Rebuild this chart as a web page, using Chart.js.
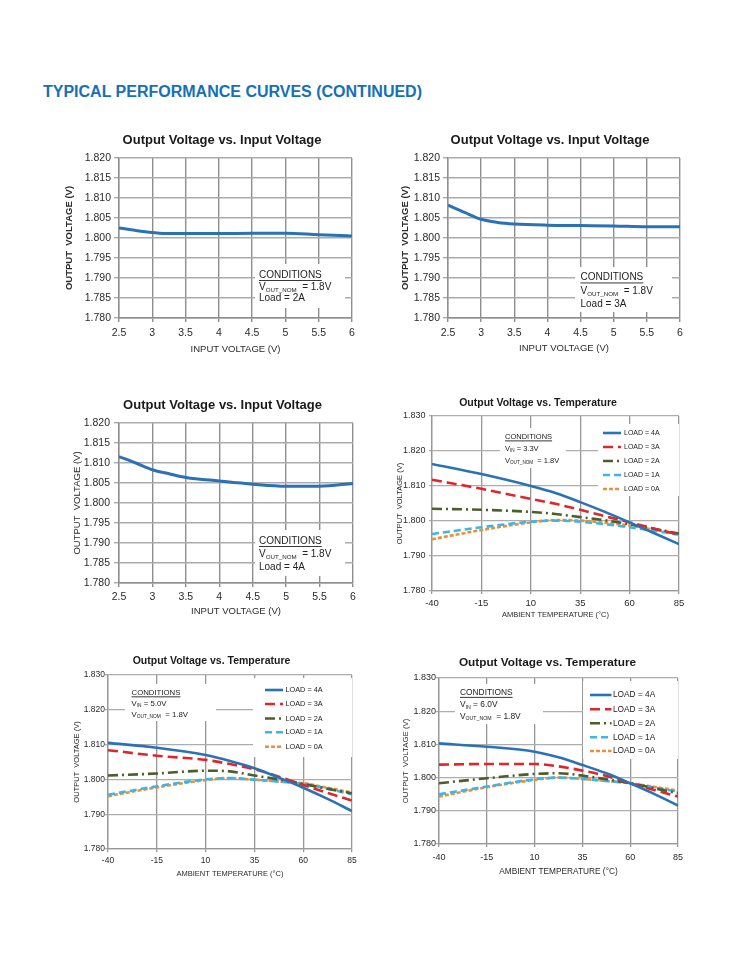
<!DOCTYPE html>
<html>
<head>
<meta charset="utf-8">
<script src="https://cdn.jsdelivr.net/npm/chart.js@4.4.1/dist/chart.umd.min.js"></script>
<style>
  body { margin: 0; background: #fff; width: 742px; height: 960px; position: relative; overflow: hidden; }
  h1 { position: absolute; left: 43px; top: 83px; margin: 0; font: bold 16px "Liberation Sans", Arial, sans-serif; color: #1570b5; letter-spacing: 0; }
  canvas { position: absolute; }
</style>
</head>
<body>
<h1>TYPICAL PERFORMANCE CURVES (CONTINUED)</h1>
<canvas id="c1"></canvas>
<canvas id="c2"></canvas>
<canvas id="c3"></canvas>
<canvas id="c4"></canvas>
<canvas id="c5"></canvas>
<canvas id="c6"></canvas>
<script>
// ── DATA ──
const vinPts = [2.5, 2.75, 3, 3.25, 3.5, 4, 4.5, 5, 5.5, 6];
const voutLoad2A = [1.8025, 1.8019, 1.8014, 1.8011, 1.8011, 1.8011, 1.8012, 1.8012, 1.8008, 1.8005];
const voutLoad3A = [1.8082, 1.8064, 1.8047, 1.8039, 1.8035, 1.8032, 1.8031, 1.8030, 1.8028, 1.8028];
const voutLoad4A = [1.8116, 1.8100, 1.8083, 1.8073, 1.8064, 1.8055, 1.8047, 1.8042, 1.8042, 1.8049];

const tempPts = [-40, -15, 10, 22.5, 35, 47.5, 60, 72.5, 85];
const loadLabels = ['LOAD = 4A', 'LOAD = 3A', 'LOAD = 2A', 'LOAD = 1A', 'LOAD = 0A'];
// VIN = 3.3V
const vin33 = [
  [1.8163, 1.8134, 1.8100, 1.8080, 1.8054, 1.8026, 1.7996, 1.7965, 1.7934],
  [1.8118, 1.8092, 1.8063, 1.8049, 1.8032, 1.8014, 1.7996, 1.7978, 1.7961],
  [1.8035, 1.8032, 1.8026, 1.8020, 1.8011, 1.8002, 1.7991, 1.7978, 1.7964],
  [1.7963, 1.7982, 1.7998, 1.8001, 1.7998, 1.7991, 1.7982, 1.7972, 1.7961],
  [1.7948, 1.7974, 1.7996, 1.8003, 1.8001, 1.7995, 1.7987, 1.7975, 1.7963]
];
// VIN = 5.0V
const vin50 = [
  [1.8105, 1.8091, 1.8070, 1.8053, 1.8032, 1.8005, 1.7976, 1.7944, 1.7909],
  [1.8084, 1.8068, 1.8056, 1.8044, 1.8029, 1.8008, 1.7984, 1.7961, 1.7939],
  [1.8011, 1.8017, 1.8025, 1.8023, 1.8011, 1.8000, 1.7987, 1.7973, 1.7960],
  [1.7956, 1.7980, 1.8000, 1.8004, 1.7999, 1.7994, 1.7987, 1.7973, 1.7957],
  [1.7952, 1.7977, 1.7998, 1.8003, 1.7999, 1.7994, 1.7989, 1.7976, 1.7962]
];
// VIN = 6.0V
const vin60 = [
  [1.8103, 1.8093, 1.8078, 1.8061, 1.8038, 1.8013, 1.7983, 1.7951, 1.7916],
  [1.8039, 1.8041, 1.8041, 1.8034, 1.8021, 1.8005, 1.7983, 1.7963, 1.7943],
  [1.7983, 1.7998, 1.8011, 1.8013, 1.8006, 1.7995, 1.7983, 1.7968, 1.7953],
  [1.7950, 1.7973, 1.7995, 1.8000, 1.7996, 1.7990, 1.7983, 1.7970, 1.7958],
  [1.7943, 1.7971, 1.7993, 1.8000, 1.7996, 1.7990, 1.7983, 1.7972, 1.7961]
];

// ── STYLE ──
const FONT = '"Liberation Sans", Arial, sans-serif';
const BLUE = '#2a72b5';
const loadStyles = [
  { color: '#2a72b5', dash: [] },
  { color: '#e0262b', dash: [10, 5] },
  { color: '#4d5e2a', dash: [10, 4, 2, 4] },
  { color: '#3db5e6', dash: [7, 4] },
  { color: '#e8913c', dash: [4, 2] }
];

const pts = (xs, ys) => xs.map((x, i) => ({ x: x, y: ys[i] }));

function vinSet(ys) {
  return [{ data: pts(vinPts, ys), borderColor: BLUE, borderWidth: 3, pointRadius: 0, cubicInterpolationMode: 'monotone' }];
}
function tempSets(rows) {
  return rows.map((ys, i) => ({
    label: loadLabels[i], data: pts(tempPts, ys),
    borderColor: loadStyles[i].color, borderDash: loadStyles[i].dash,
    borderWidth: 2.6, pointRadius: 0, cubicInterpolationMode: 'monotone'
  }));
}

function drawLine(ctx, parts, x, y, size) {
  parts.forEach(p => {
    if (p.sub) {
      ctx.font = (size * 0.62) + 'px ' + FONT;
      ctx.fillText(p.t, x, y + size * 0.28);
    } else {
      ctx.font = size + 'px ' + FONT;
      ctx.fillText(p.t, x, y);
    }
    x += ctx.measureText(p.t).width;
  });
}

// ── CHART BUILDER ──
function makeChart(id, g) {
  const yLh = g.yTitleSize * 1.2, xLh = g.xTitleSize * 1.2;
  const yScaleLeft = g.yTitleX - yLh / 2;
  const xScaleBottom = g.xTitleY + xLh / 2;
  const cl = Math.floor(yScaleLeft) - 2, ct = g.plot.t - 45;
  const cr = g.plot.r + 25, cb = Math.ceil(xScaleBottom) + 4;
  const cv = document.getElementById(id);
  cv.width = cr - cl; cv.height = cb - ct;
  cv.style.left = cl + 'px'; cv.style.top = ct + 'px';

  const deco = {
    id: 'deco',
    beforeDatasetsDraw(chart) {
      const ctx = chart.ctx;
      ctx.save();
      ctx.fillStyle = '#fff';
      g.boxes.forEach(b => ctx.fillRect(b[0] - cl, b[1] - ct, b[2], b[3]));
      ctx.restore();
    },
    afterDraw(chart) {
      const ctx = chart.ctx;
      ctx.save();
      ctx.textBaseline = 'middle';
      // title
      ctx.fillStyle = '#1a1a1a';
      ctx.textAlign = 'center';
      ctx.font = 'bold ' + g.title.size + 'px ' + FONT;
      ctx.fillText(g.title.text, g.title.x - cl, g.title.y - ct);
      // conditions
      const c = g.cond;
      ctx.textAlign = 'left';
      ctx.fillStyle = '#222';
      ctx.font = c.size + 'px ' + FONT;
      ctx.fillText('CONDITIONS', c.x - cl, c.ys[0] - ct);
      const w = ctx.measureText('CONDITIONS').width;
      ctx.fillRect(c.x - cl, c.ys[0] - ct + c.size * 0.5, w, 0.9);
      c.lines.forEach((parts, i) => drawLine(ctx, parts, c.x - cl, c.ys[i + 1] - ct, c.size));
      // legend
      if (g.legend) {
        const L = g.legend;
        chart.data.datasets.forEach((ds, i) => {
          const y = L.ys[i] - ct;
          ctx.strokeStyle = ds.borderColor;
          ctx.lineWidth = ds.borderWidth;
          ctx.setLineDash(ds.borderDash || []);
          ctx.beginPath();
          ctx.moveTo(L.x1 - cl, y); ctx.lineTo(L.x2 - cl, y);
          ctx.stroke();
          ctx.setLineDash([]);
          ctx.fillStyle = '#222';
          ctx.font = L.size + 'px ' + FONT;
          ctx.fillText(ds.label, L.tx - cl, y);
        });
      }
      ctx.restore();
    }
  };

  return new Chart(cv, {
    type: 'line',
    data: { datasets: g.datasets },
    plugins: [deco],
    options: {
      responsive: false,
      animation: false,
      layout: { padding: { left: yScaleLeft - cl, top: g.plot.t - ct, right: cr - g.plot.r, bottom: cb - xScaleBottom } },
      plugins: { legend: { display: false }, tooltip: { enabled: false } },
      scales: {
        x: {
          type: 'linear', min: g.x.min, max: g.x.max,
          ticks: { stepSize: g.x.step, color: '#2a2a2a', padding: g.x.pad, font: { family: FONT, size: g.tickSize },
                   callback: v => String(v) },
          grid: { color: g.vGrid, lineWidth: g.gridW, tickLength: g.x.tick },
          border: { color: g.vGrid, width: g.gridW },
          title: { display: true, text: g.xTitle, color: '#2a2a2a', padding: 0, font: { family: FONT, size: g.xTitleSize } },
          afterFit: s => { s.height = xScaleBottom - g.plot.b; }
        },
        y: {
          min: g.y.min, max: g.y.max,
          ticks: { stepSize: g.y.step, color: '#2a2a2a', padding: g.y.pad, font: { family: FONT, size: g.yTickSize || g.tickSize },
                   callback: v => v.toFixed(3) },
          grid: { color: g.hGrid, lineWidth: g.gridW, tickLength: g.y.tick },
          border: { color: g.vGrid, width: g.gridW },
          title: { display: true, text: 'OUTPUT  VOLTAGE (V)', color: '#2a2a2a', padding: 0,
                   font: { family: FONT, size: g.yTitleSize, weight: g.yTitleBold ? 'bold' : 'normal' } },
          afterFit: s => { s.width = g.plot.l - yScaleLeft; }
        }
      }
    }
  });
}

const voutNom = [{ t: 'V' }, { t: 'OUT_NOM', sub: true }, { t: '  = 1.8V' }];
const vinAxis = { min: 2.5, max: 6, step: 0.5, tick: 4, pad: 5 };
const vinY = { min: 1.78, max: 1.82, step: 0.005, tick: 5, pad: 3 };
const tempTitle = 'Output Voltage vs. Temperature';
const vinTitle = 'Output Voltage vs. Input Voltage';

makeChart('c1', {
  plot: { l: 119, t: 158, r: 352, b: 318 }, datasets: vinSet(voutLoad2A),
  title: { text: vinTitle, x: 222, y: 140, size: 13 },
  yTitleX: 69, yTitleSize: 9.5, yTitleBold: true, xTitleY: 349, xTitleSize: 9.5, xTitle: 'INPUT VOLTAGE (V)',
  tickSize: 10.5, vGrid: '#8e8e8e', hGrid: '#ababab', gridW: 1.4,
  x: vinAxis, y: vinY,
  cond: { x: 259, ys: [275, 287.5, 298.5], size: 10, lines: [voutNom, [{ t: 'Load = 2A' }]] },
  boxes: [[255, 264, 90, 44]]
});

makeChart('c2', {
  plot: { l: 448, t: 158, r: 680, b: 318 }, datasets: vinSet(voutLoad3A),
  title: { text: vinTitle, x: 550, y: 140, size: 13 },
  yTitleX: 405, yTitleSize: 9.5, yTitleBold: true, xTitleY: 348.5, xTitleSize: 9.5, xTitle: 'INPUT VOLTAGE (V)',
  tickSize: 10.5, vGrid: '#8e8e8e', hGrid: '#ababab', gridW: 1.4,
  x: vinAxis, y: { min: 1.78, max: 1.82, step: 0.005, tick: 5, pad: 3 },
  cond: { x: 580.5, ys: [277.5, 291, 304.5], size: 10, lines: [voutNom, [{ t: 'Load = 3A' }]] },
  boxes: [[575, 267, 97, 45]]
});

makeChart('c3', {
  plot: { l: 119, t: 423, r: 353, b: 583 }, datasets: vinSet(voutLoad4A),
  title: { text: vinTitle, x: 222.5, y: 405, size: 13 },
  yTitleX: 77, yTitleSize: 9.5, yTitleBold: false, xTitleY: 611.5, xTitleSize: 9.5, xTitle: 'INPUT VOLTAGE (V)',
  tickSize: 10.5, vGrid: '#8e8e8e', hGrid: '#ababab', gridW: 1.4,
  x: { min: 2.5, max: 6, step: 0.5, tick: 4, pad: 3.5 }, y: { min: 1.78, max: 1.82, step: 0.005, tick: 5, pad: 4 },
  cond: { x: 259, ys: [541, 554, 567.5], size: 10, lines: [voutNom, [{ t: 'Load = 4A' }]] },
  boxes: [[255, 530, 90, 46]]
});

makeChart('c4', {
  plot: { l: 432, t: 416, r: 679, b: 591 }, datasets: tempSets(vin33),
  title: { text: tempTitle, x: 538, y: 403, size: 10.5 },
  yTitleX: 400, yTitleSize: 7.5, xTitleY: 615, xTitleSize: 7.5, xTitle: 'AMBIENT TEMPERATURE (°C)',
  tickSize: 9.5, yTickSize: 9, vGrid: '#979797', hGrid: '#adadad', gridW: 1.3,
  x: { min: -40, max: 85, step: 25, tick: 3, pad: 3.6 }, y: { min: 1.78, max: 1.83, step: 0.01, tick: 3, pad: 3.5 },
  cond: { x: 505, ys: [436.7, 448.5, 460.5], size: 7.5,
          lines: [[{ t: 'V' }, { t: 'IN', sub: true }, { t: ' = 3.3V' }], voutNom] },
  legend: { x1: 603, x2: 621, tx: 624, size: 7, ys: [433, 447, 461, 475, 489] },
  boxes: [[500, 428, 66, 40], [598, 424, 81, 72]]
});

makeChart('c5', {
  plot: { l: 108, t: 675, r: 352, b: 849 }, datasets: tempSets(vin50),
  title: { text: tempTitle, x: 211.5, y: 661, size: 10.5 },
  yTitleX: 76.5, yTitleSize: 7.5, xTitleY: 874, xTitleSize: 7.5, xTitle: 'AMBIENT TEMPERATURE (°C)',
  tickSize: 8.5, vGrid: '#979797', hGrid: '#adadad', gridW: 1.3,
  x: { min: -40, max: 85, step: 25, tick: 3, pad: 3.6 }, y: { min: 1.78, max: 1.83, step: 0.01, tick: 3, pad: 0 },
  cond: { x: 131.5, ys: [692.5, 703.5, 714.5], size: 7.8,
          lines: [[{ t: 'V' }, { t: 'IN', sub: true }, { t: ' = 5.0V' }], voutNom] },
  legend: { x1: 265, x2: 283, tx: 285.5, size: 7.3, ys: [690, 704, 718.5, 732.3, 746.7] },
  boxes: [[125, 684, 91, 37], [253, 678, 99, 79]]
});

makeChart('c6', {
  plot: { l: 439, t: 678, r: 678, b: 844 }, datasets: tempSets(vin60),
  title: { text: tempTitle, x: 547.5, y: 663, size: 11.8 },
  yTitleX: 405.5, yTitleSize: 7.8, xTitleY: 872, xTitleSize: 8.3, xTitle: 'AMBIENT TEMPERATURE (°C)',
  tickSize: 9, vGrid: '#979797', hGrid: '#adadad', gridW: 1.3,
  x: { min: -40, max: 85, step: 25, tick: 3, pad: 5.6 }, y: { min: 1.78, max: 1.83, step: 0.01, tick: 3, pad: 0 },
  cond: { x: 460, ys: [692.7, 705, 716.7], size: 8.4,
          lines: [[{ t: 'V' }, { t: 'IN', sub: true }, { t: ' = 6.0V' }], voutNom] },
  legend: { x1: 590, x2: 611.5, tx: 613, size: 8.3, ys: [695, 709.3, 723.3, 737.3, 751] },
  boxes: [[455, 684, 88, 40], [583, 681, 95, 78]]
});
</script>
</body>
</html>
